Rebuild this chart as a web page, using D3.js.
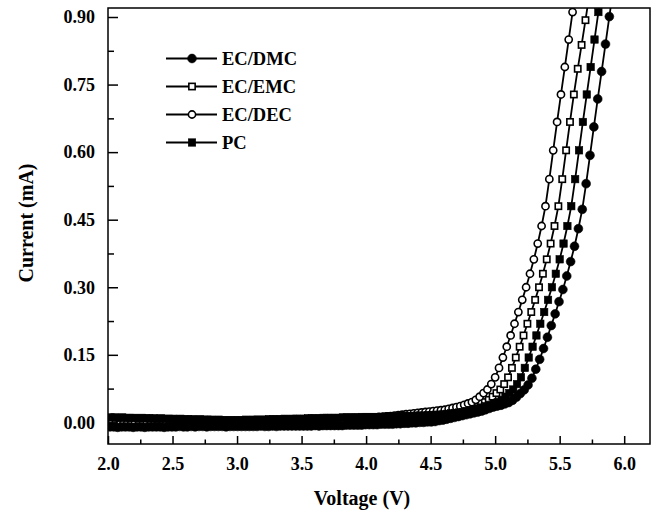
<!DOCTYPE html>
<html><head><meta charset="utf-8">
<script src="https://cdn.jsdelivr.net/npm/d3@7/dist/d3.min.js"></script>
<style>
html,body{margin:0;padding:0;background:#fff;}
svg{display:block;}
text{font-family:"Liberation Serif","Times New Roman",serif;font-weight:bold;fill:#000;}
</style></head><body>
<svg id="chart" width="657" height="511"></svg>
<script>
// ---------- data ----------
const seriesNames = ["EC/DMC", "EC/EMC", "EC/DEC", "PC"];
const xTickValues = [2.0, 2.5, 3.0, 3.5, 4.0, 4.5, 5.0, 5.5, 6.0];
const xTickLabels = ["2.0", "2.5", "3.0", "3.5", "4.0", "4.5", "5.0", "5.5", "6.0"];
const xMinorTicks = [2.25, 2.75, 3.25, 3.75, 4.25, 4.75, 5.25, 5.75];
const yTickValues = [0.00, 0.15, 0.30, 0.45, 0.60, 0.75, 0.90];
const yTickLabels = ["0.00", "0.15", "0.30", "0.45", "0.60", "0.75", "0.90"];
const yMinorTicks = [0.075, 0.225, 0.375, 0.525, 0.675, 0.825];
const xTitle = "Voltage (V)";
const yTitle = "Current (mA)";

const voltageDMC = [2.015,2.045,2.075,2.105,2.135,2.165,2.195,2.225,2.255,2.285,2.315,2.345,2.375,2.405,2.435,2.465,2.495,2.525,2.555,2.585,2.615,2.645,2.675,2.705,2.735,2.765,2.795,2.825,2.855,2.885,2.915,2.945,2.975,3.005,3.035,3.065,3.095,3.125,3.155,3.185,3.215,3.245,3.275,3.305,3.335,3.365,3.395,3.425,3.455,3.485,3.515,3.545,3.575,3.605,3.635,3.665,3.695,3.725,3.755,3.785,3.815,3.845,3.875,3.905,3.935,3.965,3.995,4.025,4.055,4.085,4.115,4.145,4.175,4.205,4.235,4.265,4.295,4.325,4.355,4.385,4.415,4.445,4.475,4.505,4.535,4.565,4.595,4.625,4.655,4.685,4.715,4.745,4.775,4.805,4.835,4.865,4.895,4.925,4.955,4.985,5.015,5.045,5.075,5.105,5.135,5.165,5.195,5.225,5.255,5.285,5.315,5.345,5.375,5.405,5.435,5.465,5.495,5.525,5.555,5.585,5.615,5.645,5.675,5.705,5.735,5.765,5.795,5.825,5.855,5.885,5.915];
const currentDMC = [-0.010,-0.010,-0.011,-0.010,-0.010,-0.010,-0.011,-0.010,-0.010,-0.011,
-0.010,-0.010,-0.010,-0.010,-0.011,-0.010,-0.010,-0.010,-0.009,-0.010,
-0.010,-0.009,-0.010,-0.009,-0.009,-0.010,-0.009,-0.009,-0.009,-0.009,-0.010,-0.009,-0.009,-0.009,
-0.009,-0.009,-0.009,-0.009,-0.009,-0.008,-0.009,-0.009,-0.008,-0.009,-0.008,-0.008,-0.008,-0.008,-0.008,-0.008,
-0.008,-0.008,-0.008,-0.007,-0.008,-0.007,-0.007,-0.007,-0.007,-0.007,
-0.007,-0.006,-0.006,-0.006,-0.006,-0.006,-0.005,-0.005,-0.005,-0.005,-0.004,-0.004,
-0.004,-0.004,-0.003,-0.003,-0.002,-0.002,-0.001,-0.001,0.000,0.000,0.001,0.001,
0.002,0.004,0.005,0.007,0.009,0.011,0.013,0.015,0.017,0.019,0.021,0.023,0.025,0.028,0.031,0.034,0.036,0.038,0.041,0.044,0.049,0.056,0.064,0.072,0.083,0.098,0.118,0.140,0.164,0.189,0.215,0.241,0.268,0.295,0.325,0.357,0.391,0.430,0.473,0.530,0.593,0.656,0.718,0.779,0.840,0.901,0.962];

const voltageEMC = [2.01,2.04,2.07,2.10,2.13,2.16,2.19,2.22,2.25,2.28,2.31,2.34,2.37,2.40,2.43,2.46,2.49,2.52,2.55,2.58,2.61,2.64,2.67,2.70,2.73,2.76,2.79,2.82,2.85,2.88,2.91,2.94,2.97,3.00,3.03,3.06,3.09,3.12,3.15,3.18,3.21,3.24,3.27,3.30,3.33,3.36,3.39,3.42,3.45,3.48,3.51,3.54,3.57,3.60,3.63,3.66,3.69,3.72,3.75,3.78,3.81,3.84,3.87,3.90,3.93,3.96,3.99,4.02,4.05,4.08,4.11,4.14,4.17,4.20,4.23,4.26,4.29,4.32,4.35,4.38,4.41,4.44,4.47,4.50,4.53,4.56,4.59,4.62,4.65,4.68,4.71,4.74,4.77,4.80,4.83,4.86,4.89,4.92,4.95,4.98,5.01,5.04,5.07,5.10,5.13,5.16,5.19,5.22,5.25,5.28,5.31,5.34,5.37,5.40,5.43,5.46,5.49,5.52,5.55,5.58,5.61,5.64,5.67,5.70,5.73];
const currentEMC = [-0.004,-0.004,-0.005,-0.004,-0.004,-0.005,-0.004,-0.005,-0.005,-0.005,
-0.005,-0.005,-0.005,-0.005,-0.006,-0.005,-0.005,-0.005,-0.005,-0.005,
-0.005,-0.005,-0.006,-0.005,-0.005,-0.005,-0.005,-0.006,-0.005,-0.005,-0.005,-0.005,-0.005,-0.005,
-0.005,-0.005,-0.004,-0.005,-0.004,-0.004,-0.004,-0.004,-0.004,-0.004,-0.003,-0.004,-0.003,-0.003,-0.003,-0.003,
-0.003,-0.002,-0.002,-0.002,-0.001,-0.001,-0.001,0.000,0.000,0.001,
0.001,0.002,0.002,0.003,0.003,0.004,0.004,0.005,0.006,0.006,
0.007,0.008,0.008,0.009,0.010,0.010,0.011,0.012,
0.013,0.014,0.014,0.015,0.016,0.017,0.018,0.019,0.021,0.022,0.023,0.025,0.026,0.028,0.030,0.033,0.035,0.039,0.042,0.045,0.050,0.057,0.065,0.073,0.085,0.100,0.121,0.144,0.168,0.193,0.219,0.245,0.272,0.300,0.330,0.362,0.397,0.436,0.480,0.540,0.604,0.667,0.728,0.785,0.838,0.893,0.950];

const voltageDEC = [2.00,2.03,2.06,2.09,2.12,2.15,2.18,2.21,2.24,2.27,2.30,2.33,2.36,2.39,2.42,2.45,2.48,2.51,2.54,2.57,2.60,2.63,2.66,2.69,2.72,2.75,2.78,2.81,2.84,2.87,2.90,2.93,2.96,2.99,3.02,3.05,3.08,3.11,3.14,3.17,3.20,3.23,3.26,3.29,3.32,3.35,3.38,3.41,3.44,3.47,3.50,3.53,3.56,3.59,3.62,3.65,3.68,3.71,3.74,3.77,3.80,3.83,3.86,3.89,3.92,3.95,3.98,4.01,4.04,4.07,4.10,4.13,4.16,4.19,4.22,4.25,4.28,4.31,4.34,4.37,4.40,4.43,4.46,4.49,4.52,4.55,4.58,4.61,4.64,4.67,4.70,4.73,4.76,4.79,4.82,4.85,4.88,4.91,4.94,4.97,5.00,5.03,5.06,5.09,5.12,5.15,5.18,5.21,5.24,5.27,5.30,5.33,5.36,5.39,5.42,5.45,5.48,5.51,5.54,5.57,5.60,5.63];
const currentDEC = [-0.002,-0.002,-0.002,-0.003,-0.002,-0.002,-0.003,-0.002,-0.003,-0.003,
-0.003,-0.003,-0.003,-0.003,-0.003,-0.004,-0.003,-0.003,-0.003,-0.003,
-0.003,-0.004,-0.003,-0.003,-0.003,-0.004,-0.003,-0.003,-0.003,-0.003,-0.004,-0.003,-0.003,-0.003,
-0.003,-0.003,-0.003,-0.003,-0.002,-0.003,-0.002,-0.002,-0.002,-0.002,-0.002,-0.001,-0.002,-0.001,-0.001,-0.001,
-0.001,0.000,0.000,0.001,0.001,0.002,0.002,0.003,0.003,0.004,
0.004,0.005,0.005,0.006,0.007,0.007,0.008,0.009,0.010,0.011,
0.012,0.012,0.013,0.014,0.015,0.016,0.017,
0.018,0.019,0.020,0.021,0.022,0.023,0.024,0.025,0.026,0.027,0.028,0.030,0.032,0.034,0.036,0.039,0.042,0.045,0.050,0.057,0.065,0.073,0.085,0.100,0.121,0.144,0.168,0.193,0.219,0.245,0.272,0.300,0.330,0.362,0.397,0.436,0.480,0.540,0.604,0.667,0.728,0.789,0.850,0.911,0.972];

const voltagePC = [2.02,2.05,2.08,2.11,2.14,2.17,2.20,2.23,2.26,2.29,2.32,2.35,2.38,2.41,2.44,2.47,2.50,2.53,2.56,2.59,2.62,2.65,2.68,2.71,2.74,2.77,2.80,2.83,2.86,2.89,2.92,2.95,2.98,3.01,3.04,3.07,3.10,3.13,3.16,3.19,3.22,3.25,3.28,3.31,3.34,3.37,3.40,3.43,3.46,3.49,3.52,3.55,3.58,3.61,3.64,3.67,3.70,3.73,3.76,3.79,3.82,3.85,3.88,3.91,3.94,3.97,4.00,4.03,4.06,4.09,4.12,4.15,4.18,4.21,4.24,4.27,4.30,4.33,4.36,4.39,4.42,4.45,4.48,4.51,4.54,4.57,4.60,4.63,4.66,4.69,4.72,4.75,4.78,4.81,4.84,4.87,4.90,4.93,4.96,4.99,5.02,5.05,5.08,5.11,5.14,5.17,5.20,5.23,5.26,5.29,5.32,5.35,5.38,5.41,5.44,5.47,5.50,5.53,5.56,5.59,5.62,5.65,5.68,5.71,5.74,5.77,5.80,5.83];
const currentPC = [0.011,0.011,0.010,0.011,0.010,0.010,0.010,0.009,0.010,0.009,
0.009,0.009,0.008,0.009,0.008,0.008,0.008,0.007,0.008,0.007,
0.007,0.007,0.006,0.007,0.006,0.006,0.006,0.005,0.006,0.005,0.005,0.005,0.005,0.005,
0.005,0.006,0.005,0.006,0.006,0.006,0.006,0.007,0.007,0.007,0.007,0.008,0.007,0.008,0.008,0.008,
0.008,0.009,0.009,0.009,0.009,0.010,0.010,0.010,0.010,0.010,
0.011,0.011,0.011,0.011,0.011,0.012,0.012,0.012,0.012,0.012,
0.012,0.013,0.013,0.013,0.013,0.014,0.014,0.014,0.014,0.015,0.015,
0.015,0.016,0.016,0.017,0.017,0.018,0.019,0.020,0.021,0.022,0.023,0.025,0.027,0.029,0.031,
0.033,0.036,0.039,0.042,0.045,0.050,0.057,0.065,0.073,0.085,0.100,0.121,0.144,0.168,0.193,0.219,0.245,0.272,0.300,0.330,0.362,0.397,0.436,0.480,0.540,0.604,0.667,0.728,0.789,0.850,0.911,0.972];

// ---------- chart ----------
const svg = d3.select("#chart");
const pLeft = 108, pRight = 650, pTop = 8, pBottom = 444;
const x = d3.scaleLinear().domain([2.0, 6.2]).range([pLeft, pRight]);
const y = d3.scaleLinear().domain([-0.048, 0.92]).range([pBottom, pTop]);

const series = [
  {name: seriesNames[0], v: voltageDMC, c: currentDMC, shape: "circle", filled: true},
  {name: seriesNames[1], v: voltageEMC, c: currentEMC, shape: "square", filled: false},
  {name: seriesNames[2], v: voltageDEC, c: currentDEC, shape: "circle", filled: false},
  {name: seriesNames[3], v: voltagePC, c: currentPC, shape: "square", filled: true}
];
series.forEach(s => {
  const n = Math.min(s.v.length, s.c.length);
  if (s.v.length !== s.c.length) console.error("length mismatch", s.name, s.v.length, s.c.length);
  s.points = d3.range(n).map(i => ({v: s.v[i], c: s.c[i]}));
});

svg.append("defs").append("clipPath").attr("id", "plotclip")
  .append("rect").attr("x", pLeft).attr("y", pTop).attr("width", pRight - pLeft).attr("height", pBottom - pTop);

const plot = svg.append("g").attr("clip-path", "url(#plotclip)");
const line = d3.line().x(d => x(d.v)).y(d => y(d.c));

function markers(g, data, shape, filled, cx, cy) {
  if (shape === "circle") {
    const r = filled ? 4.4 : 3.6;
    g.selectAll("circle.m").data(data).join("circle").attr("class", "m")
      .attr("cx", cx).attr("cy", cy).attr("r", r)
      .attr("fill", filled ? "#000" : "#fff").attr("stroke", "#000").attr("stroke-width", filled ? 0.6 : 1.6);
  } else {
    const s = filled ? 7.4 : 6.3;
    g.selectAll("rect.m").data(data).join("rect").attr("class", "m")
      .attr("x", d => cx(d) - s / 2).attr("y", d => cy(d) - s / 2)
      .attr("width", s).attr("height", s)
      .attr("fill", filled ? "#000" : "#fff").attr("stroke", "#000").attr("stroke-width", filled ? 0.6 : 1.6);
  }
}

// open-marker series first, filled-marker series on top
[1, 2, 0, 3].forEach(i => {
  const s = series[i];
  const g = plot.append("g");
  g.append("path").datum(s.points).attr("d", line)
    .attr("fill", "none").attr("stroke", "#000").attr("stroke-width", 1.8);
  markers(g, s.points, s.shape, s.filled, d => x(d.v), d => y(d.c));
});

// axes
const fontSize = 18;
const yAxis = svg.append("g").attr("transform", `translate(${pLeft},0)`)
  .call(d3.axisLeft(y).tickValues(yTickValues).tickSize(-10).tickPadding(13)
    .tickFormat((d, i) => yTickLabels[i]));
yAxis.select(".domain").remove();
yAxis.selectAll("line").attr("stroke", "#000").attr("stroke-width", 1.5);
yAxis.selectAll("text").attr("font-size", fontSize).attr("font-family", null);

const yMinor = svg.append("g").attr("transform", `translate(${pLeft},0)`)
  .call(d3.axisLeft(y).tickValues(yMinorTicks).tickSize(-6).tickFormat(""));
yMinor.select(".domain").remove();
yMinor.selectAll("line").attr("stroke", "#000").attr("stroke-width", 1.5);

const xAxis = svg.append("g").attr("transform", `translate(0,${pBottom})`)
  .call(d3.axisBottom(x).tickValues(xTickValues).tickSize(-8).tickPadding(13)
    .tickFormat((d, i) => xTickLabels[i]));
xAxis.select(".domain").remove();
xAxis.selectAll("line").attr("stroke", "#000").attr("stroke-width", 1.5);
xAxis.selectAll("text").attr("font-size", fontSize).attr("font-family", null);

const xMinor = svg.append("g").attr("transform", `translate(0,${pBottom})`)
  .call(d3.axisBottom(x).tickValues(xMinorTicks).tickSize(-4.5).tickFormat(""));
xMinor.select(".domain").remove();
xMinor.selectAll("line").attr("stroke", "#000").attr("stroke-width", 1.5);

// frame
svg.append("rect").attr("x", pLeft).attr("y", pTop).attr("width", pRight - pLeft).attr("height", pBottom - pTop)
  .attr("fill", "none").attr("stroke", "#000").attr("stroke-width", 1.5);

// axis titles
svg.append("text").attr("x", 362).attr("y", 505).attr("text-anchor", "middle")
  .attr("font-size", 20).text(xTitle);
svg.append("text").attr("transform", "translate(33,223) rotate(-90)").attr("text-anchor", "middle")
  .attr("font-size", 20).text(yTitle);

// legend
const legendRows = [58.5, 86.5, 114.5, 142.5];
const legend = svg.append("g");
series.forEach((s, i) => {
  const ly = legendRows[i];
  const g = legend.append("g");
  g.append("line").attr("x1", 166).attr("x2", 217).attr("y1", ly).attr("y2", ly)
    .attr("stroke", "#000").attr("stroke-width", 1.8);
  markers(g, [0], s.shape, s.filled, () => 192, () => ly);
  g.append("text").attr("x", 222).attr("y", ly + 6.3).attr("font-size", 18.5).text(s.name);
});
</script>
</body></html>
